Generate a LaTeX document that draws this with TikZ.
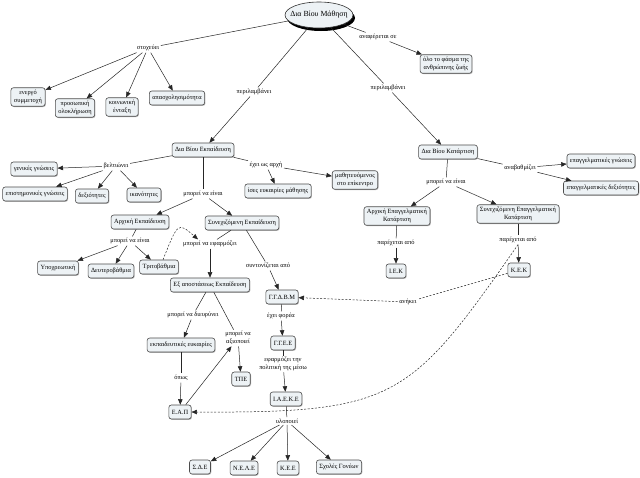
\documentclass[tikz,border=0pt]{standalone}
\usepackage{fontspec}
\setmainfont{Liberation Serif}
\usetikzlibrary{arrows.meta,shadows,shapes.geometric}
\definecolor{boxfill}{HTML}{EDF2F5}
\begin{document}
\begin{tikzpicture}[x=1pt,y=-1pt,
  cbox/.style={draw=black!70, line width=0.6pt, rounded corners=2.5pt, fill=boxfill,
    inner xsep=3pt, inner ysep=2.5pt, minimum height=14pt,
    font=\fontsize{6.4}{7.6}\selectfont, align=center,
    drop shadow={shadow xshift=0.8pt,shadow yshift=-0.8pt,fill=black!45,opacity=0.6}},
  lbl/.style={inner sep=1.5pt, font=\fontsize{6.4}{7.6}\selectfont, align=center},
  con/.style={draw=black!85, line width=0.5pt},
  arr/.style={con, -{Triangle[length=5.5pt,width=4.5pt]}},
  dsh/.style={arr, dash pattern=on 2pt off 1.6pt},
  dln/.style={con, dash pattern=on 2pt off 1.6pt}
]
\useasboundingbox[fill=white] (0,0) rectangle (640,477);

% root
\node[ellipse, draw=black!80, line width=0.6pt, fill=boxfill, inner xsep=-6pt, inner ysep=1pt,
  minimum width=68pt, minimum height=26pt,
  font=\fontsize{7.8}{9}\selectfont,
  drop shadow={shadow xshift=2pt,shadow yshift=-3pt,fill=black,opacity=1}] (root) at (319,15) {Δια Βίου Μάθηση};

% top left
\node[lbl] (l1) at (148,48) {στοχεύει};
\node[cbox] (ener) at (28,97) {ενεργό\\συμμετοχή};
\node[cbox] (pros) at (75,108) {προσωπική\\ολοκλήρωση};
\node[cbox] (koin) at (122,107) {κοινωνική\\ένταξη};
\node[cbox] (apas) at (177,98) {απασχολησιμότητα};

\node[lbl] (l2) at (254,92) {περιλαμβάνει};
\node[lbl] (l3) at (378,37) {αναφέρεται σε};
\node[cbox] (olo) at (446,64) {όλο το φάσμα της\\ανθρώπινης ζωής};
\node[lbl] (l4) at (388,88) {περιλαμβάνει};

% right branch
\node[cbox] (kat) at (448,152) {Δια Βίου Κατάρτιση};
\node[lbl] (l5) at (520,168) {αναβαθμίζει};
\node[cbox] (epgn) at (601,161) {επαγγελματικές γνώσεις};
\node[cbox] (epdx) at (601,188) {επαγγελματικές δεξιότητες};
\node[lbl] (l6) at (446,182) {μπορεί να είναι};
\node[cbox] (aek) at (397,216) {Αρχική Επαγγελματική\\Κατάρτιση};
\node[cbox] (sek) at (518,214) {Συνεχιζόμενη Επαγγελματική\\Κατάρτιση};
\node[lbl] (l7) at (396,243) {παρέχεται από};
\node[cbox] (iek) at (396,271) {Ι.Ε.Κ};
\node[lbl] (l8) at (518,240) {παρέχεται από};
\node[cbox] (kek) at (519,270) {Κ.Ε.Κ};

% middle branch
\node[cbox] (ekp) at (203,150) {Δια Βίου Εκπαίδευση};
\node[lbl] (l9) at (116,166) {βελτιώνει};
\node[cbox] (gen) at (34,169) {γενικές γνώσεις};
\node[cbox] (epi) at (35,194) {επιστημονικές γνώσεις};
\node[cbox] (dex) at (92,196) {δεξιότητες};
\node[cbox] (ika) at (144,195) {ικανότητες};
\node[lbl] (l10) at (266,165) {έχει ως αρχή};
\node[cbox] (ises) at (278,191) {ίσες ευκαιρίες μάθησης};
\node[cbox] (math) at (355,180) {μαθητευόμενος\\στο επίκεντρο};
\node[lbl] (l11) at (203,194) {μπορεί να είναι};
\node[cbox] (arx) at (140,222) {Αρχική Εκπαίδευση};
\node[cbox] (syn) at (242,223) {Συνεχιζόμενη Εκπαίδευση};
\node[lbl] (l12) at (130,241) {μπορεί να είναι};
\node[cbox] (ypo) at (58,268) {Υποχρεωτική};
\node[cbox] (deu) at (111,271) {Δευτεροβάθμια};
\node[cbox] (tri) at (159,267) {Τριτοβάθμια};
\node[lbl] (l13) at (210,244) {μπορεί να εφαρμόζει};
\node[lbl] (l14) at (268,266) {συντονίζεται από};
\node[cbox] (exa) at (210,285) {Εξ αποστάσεως Εκπαίδευση};
\node[cbox] (ggdbm) at (282,297) {Γ.Γ.Δ.Β.Μ};
\node[lbl] (l15) at (281,316) {έχει φορέα};
\node[cbox] (ggee) at (283,343) {Γ.Γ.Ε.Ε};
\node[lbl] (l16) at (283,364) {εφαρμόζει την\\πολιτική της μέσω};
\node[cbox] (iaeke) at (286,399) {Ι.Α.Ε.Κ.Ε};
\node[lbl] (l17) at (287,421) {υλοποιεί};
\node[cbox] (sde) at (200,467) {Σ.Δ.Ε};
\node[cbox] (nele) at (244,468) {Ν.Ε.Λ.Ε};
\node[cbox] (kee) at (288,468) {Κ.Ε.Ε};
\node[cbox] (sxol) at (339,467) {Σχολές Γονέων};
\node[lbl] (l18) at (193,315) {μπορεί να διευρύνει};
\node[cbox] (eyk) at (181,345) {εκπαιδευτικές ευκαιρίες};
\node[lbl] (l19) at (238,338) {μπορεί να\\αξιοποιεί};
\node[cbox] (tpe) at (241,379) {ΤΠΕ};
\node[lbl] (l20) at (181,378) {όπως};
\node[cbox] (eap) at (180,412) {Ε.Α.Π};
\node[lbl] (l21) at (408,302) {ανήκει};

% connectors
\draw[con] (root) -- (l1);
\draw[arr] (l1) -- (ener);
\draw[arr] (l1) -- (pros);
\draw[arr] (l1) -- (koin);
\draw[arr] (l1) -- (apas);
\draw[con] (root) -- (l2);
\draw[arr] (l2) -- (ekp);
\draw[con] (root) -- (l3);
\draw[arr] (l3) -- (olo);
\draw[con] (root) -- (l4);
\draw[arr] (l4) -- (kat);

\draw[con] (kat) -- (l5);
\draw[arr] (l5) -- (epgn);
\draw[arr] (l5) -- (epdx);
\draw[con] (kat) -- (l6);
\draw[arr] (l6) -- (aek);
\draw[arr] (l6) -- (sek);
\draw[con] (aek) -- (l7);
\draw[arr] (l7) -- (iek);
\draw[con] (sek) -- (l8);
\draw[arr] (l8) -- (kek);

\draw[con] (ekp) -- (l9);
\draw[arr] (l9) -- (gen);
\draw[arr] (l9) -- (epi);
\draw[arr] (l9) -- (dex);
\draw[arr] (l9) -- (ika);
\draw[con] (ekp) -- (l10);
\draw[arr] (l10) -- (ises);
\draw[arr] (l10) -- (math);
\draw[con] (ekp) -- (l11);
\draw[arr] (l11) -- (arx);
\draw[arr] (l11) -- (syn);
\draw[con] (arx) -- (l12);
\draw[arr] (l12) -- (ypo);
\draw[arr] (l12) -- (deu);
\draw[arr] (l12) -- (tri);
\draw[dsh] ([xshift=4pt]tri.north) .. controls (178,222) .. ([xshift=-12pt]l13.north);
\draw[con] (syn) -- (l13);
\draw[arr] (l13) -- (exa);
\draw[con] (syn) -- (l14);
\draw[arr] (l14) -- (ggdbm);
\draw[con] (ggdbm) -- (l15);
\draw[arr] (l15) -- (ggee);
\draw[con] (ggee) -- (l16);
\draw[arr] (l16) -- (iaeke);
\draw[con] (iaeke) -- (l17);
\draw[arr] (l17) -- (sde);
\draw[arr] (l17) -- (nele);
\draw[arr] (l17) -- (kee);
\draw[arr] (l17) -- (sxol);
\draw[con] (exa) -- (l18);
\draw[arr] (l18) -- (eyk);
\draw[con] (exa) -- (l19);
\draw[arr] (l19) -- (tpe);
\draw[arr] (eap) -- (l19);
\draw[con] (eyk) -- (l20);
\draw[arr] (l20) -- (eap);

\draw[dln] (kek) -- (l21);
\draw[dsh] (l21) -- (ggdbm);
\draw[dsh] (l8.south) .. controls (410,400) and (395,413) .. (eap.east);
\end{tikzpicture}
\end{document}
